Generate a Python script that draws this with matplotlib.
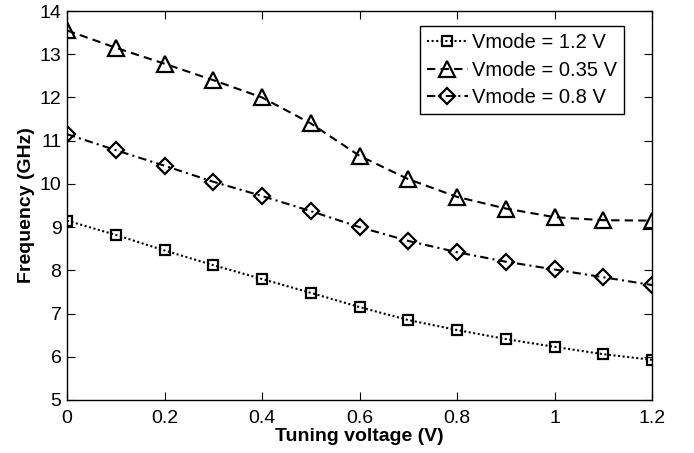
import matplotlib
matplotlib.use('Agg')
import matplotlib.pyplot as plt

plt.rcParams['font.family'] = ['Liberation Sans', 'DejaVu Sans']

# tuning voltage (V)
vtune = [0, 0.1, 0.2, 0.3, 0.4, 0.5, 0.6, 0.7, 0.8, 0.9, 1.0, 1.1, 1.2]

# frequency (GHz) for each Vmode
f_12 = [9.15, 8.82, 8.46, 8.12, 7.80, 7.48, 7.15, 6.85, 6.62, 6.41, 6.23, 6.06, 5.93]
f_035 = [13.55, 13.15, 12.78, 12.40, 12.00, 11.40, 10.65, 10.11, 9.70, 9.43, 9.23, 9.16, 9.15]
f_08 = [11.15, 10.78, 10.42, 10.05, 9.72, 9.37, 9.00, 8.68, 8.42, 8.20, 8.02, 7.84, 7.66]

labels = ['Vmode = 1.2 V', 'Vmode = 0.35 V', 'Vmode = 0.8 V']

fig = plt.figure(figsize=(6.94, 4.53), dpi=100)
ax = fig.add_axes([67 / 694, 53 / 453, 585 / 694, 389 / 453])

lw = 1.5
ax.plot(vtune, f_12, color='k', linestyle=(0, (1, 1.2)), linewidth=lw, marker='s',
        markersize=7, markerfacecolor='none', markeredgewidth=1.6, label=labels[0])
ax.plot(vtune, f_035, color='k', linestyle=(0, (4, 2.5)), linewidth=lw, marker='^',
        markersize=11, markerfacecolor='none', markeredgewidth=1.6, label=labels[1])
ax.plot(vtune, f_08, color='k', linestyle=(0, (4, 2, 1, 2)), linewidth=lw, marker='D',
        markersize=8, markerfacecolor='none', markeredgewidth=1.6, label=labels[2])

ax.set_xlim(0, 1.2)
ax.set_ylim(5, 14)
ax.set_xticks([0, 0.2, 0.4, 0.6, 0.8, 1.0, 1.2])
ax.set_xticklabels(['0', '0.2', '0.4', '0.6', '0.8', '1', '1.2'])
ax.set_yticks(range(5, 15))
ax.tick_params(direction='in', top=True, right=True, labelsize=14, length=6, width=0.8)
ax.tick_params(axis='x', pad=7)
ax.tick_params(axis='y', pad=4)
for s in ax.spines.values():
    s.set_linewidth(1.0)

ax.set_xlabel('Tuning voltage (V)', fontsize=14, fontweight='bold', labelpad=1)
ax.set_ylabel('Frequency (GHz)', fontsize=14, fontweight='bold', labelpad=3)

leg = ax.legend(loc='upper right', bbox_to_anchor=(0.952, 0.961), fontsize=14.5, fancybox=False,
                framealpha=1, edgecolor='k', handlelength=2.05, handletextpad=0.2,
                borderpad=0.35, labelspacing=0.42, borderaxespad=0)
leg.get_frame().set_linewidth(1.0)

fig.savefig('out.png', dpi=100)
